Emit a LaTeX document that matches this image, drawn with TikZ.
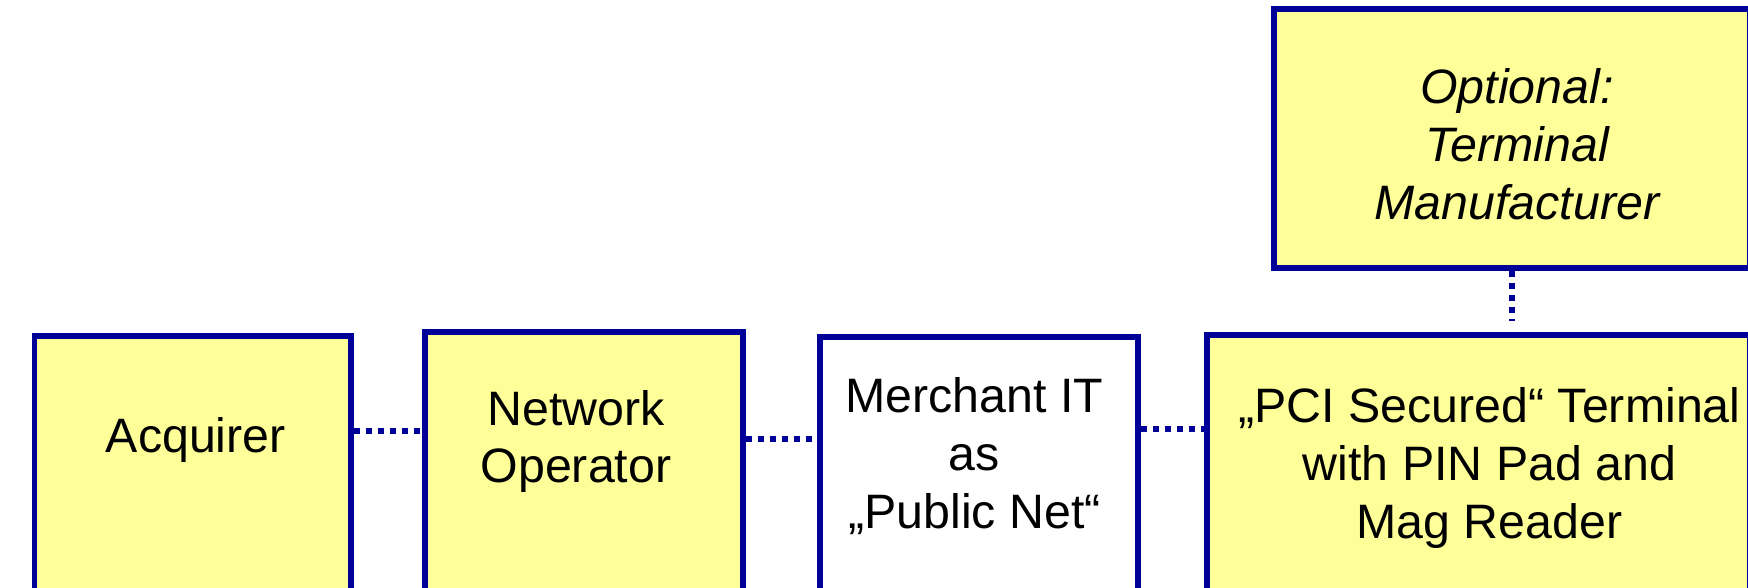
\documentclass[tikz,border=0pt]{standalone}
\usepackage{fontspec}
\setmainfont{Liberation Sans}
\definecolor{partyline}{RGB}{0,0,153}
\definecolor{partyfill}{RGB}{255,255,153}
\begin{document}
\begin{tikzpicture}[x=0.02cm,y=-0.02cm,
  party/.style={draw=partyline,line width=0.12cm,fill=partyfill,anchor=north west,inner sep=0pt},
  boxsize/.style 2 args={minimum width=#1*0.02cm,minimum height=#2*0.02cm},
  partytext/.style={align=center,inner sep=0pt,font=\fontsize{27.5}{32.9}\selectfont},
  link/.style={draw=partyline,line width=0.11cm,dash pattern=on 0.12cm off 0.12cm}]
\clip (0,0) rectangle (1748,588);
% the chain of parties, bottoms run off the page
\node[party,boxsize={316.5}{300}] (acq) at (31.5,333) {};
\node[party,boxsize={318}{300}] (noper) at (422,329) {};
\node[party,boxsize={318}{300},fill=white] (merch) at (817,334) {};
\node[party,boxsize={543}{300}] (term) at (1204,332) {};
\node[party,boxsize={476}{259}] (manuf) at (1271,6) {};
% labels
\node[partytext] (acqtxt) at ([xshift=3*0.02cm]acq.north |- 0,440) {Acquirer};
\node[partytext] (nopertxt) at ([xshift=-8*0.02cm]noper.north |- 0,441.5) {Network\\Operator};
\node[partytext] (merchtxt) at ([xshift=-4.5*0.02cm]merch.north |- 0,456) {Merchant IT\\as\\„Public Net“};
\node[partytext] (termtxt) at ([xshift=11*0.02cm]term.north |- 0,468) {„PCI Secured“ Terminal\\with PIN Pad and\\Mag Reader};
\node[partytext,font=\fontsize{27.5}{32.9}\selectfont\itshape] (manuftxt) at ([xshift=5*0.02cm]manuf.center |- 0,144) {Optional:\\Terminal\\Manufacturer};
% dotted links
\foreach \a/\b/\y in {acq/noper/431,noper/merch/439,merch/term/429}{
  \coordinate (l\a) at (0,\y);
  \draw[link] (\a.east |- l\a) -- (\b.west |- l\a);
}
\coordinate (manufend) at (manuf.south |- 0,321);
\draw[link] (manuf.south) -- (manufend);
\end{tikzpicture}
\end{document}
